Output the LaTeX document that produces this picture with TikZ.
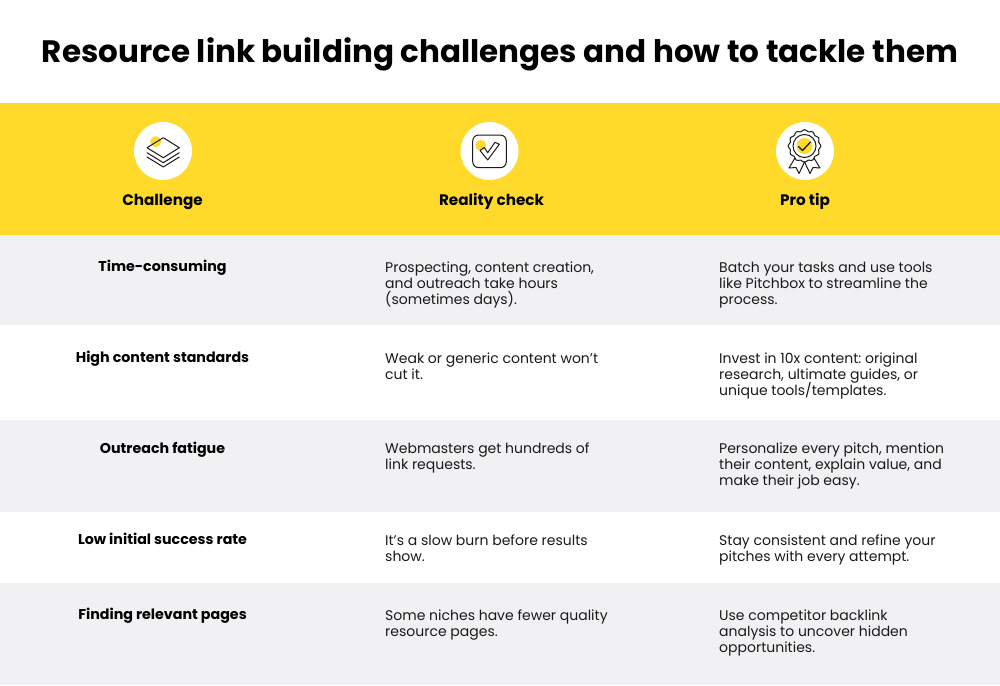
\documentclass[tikz,border=0pt]{standalone}
\usepackage{fontspec}
\setmainfont{Poppins}
\frenchspacing
\newcommand\tightlines{\setlength\lineskiplimit{-20pt}}
\definecolor{bandyellow}{HTML}{FFDA2B}
\definecolor{rowgrey}{HTML}{F1F1F3}
\definecolor{ink}{HTML}{1A1A1A}
\tikzset{
 bodytxt/.style={anchor=north west,align=left,inner sep=0pt,text=ink,font=\fontsize{14}{16}\selectfont\tightlines},
 headtxt/.style={anchor=base,inner sep=0pt,text=black,font=\fontsize{15.2}{17}\selectfont\bfseries},
 rowtxt/.style={anchor=base,inner sep=0pt,text=black,font=\fontsize{14.25}{16}\selectfont\bfseries},
 iconline/.style={draw=ink,line width=1pt,line join=round,line cap=round},
 disc/.style={circle,fill=white,draw=none,minimum size=58pt,inner sep=0pt},
 dot/.style={circle,fill=bandyellow,draw=none,minimum size=11pt,inner sep=0pt}
}
\begin{document}
\begin{tikzpicture}[x=1pt,y=-1pt]
\useasboundingbox (0,0) rectangle (1000,685);
\fill[white] (0,0) rectangle (1000,685);
\fill[bandyellow] (0,103) rectangle (1000,235);
\fill[rowgrey] (0,235) rectangle (1000,325);
\fill[rowgrey] (0,420) rectangle (1000,512);
\fill[rowgrey] (0,583) rectangle (1000,685);
\node[anchor=base,inner sep=0pt,text=black,font=\fontsize{31}{36}\selectfont\bfseries] (title) at (500,62.7) {Resource link building challenges and how to tackle them};
% icons
\node[disc] (d1) at (163,151) {};
\node[dot] (y1) at (155.7,141.7) {};
\draw[iconline] (147,147.7)--(163.3,137.7)--(179.3,147.7)--(163.3,157.7)--cycle;
\draw[iconline] (147,152.7)--(163.3,162.7)--(179.3,152.7);
\draw[iconline] (147,157)--(163.3,167)--(179.3,157);
\node[disc] (d2) at (489.5,151) {};
\node[dot] (y2) at (480.7,145.3) {};
\draw[iconline,rounded corners=6pt] (472.7,135) rectangle (506.3,167.7);
\draw[iconline] (480,150.5)--(484.3,147.5)--(487.7,152.7)--(495,142.3)--(499.3,144.3)--(487.7,160)--cycle;
\node[disc] (d3) at (805,151) {};
\node[circle,fill=bandyellow,minimum size=16pt,inner sep=0pt] (y3) at (804.5,146) {};
\draw[iconline] plot[smooth cycle,samples=48,domain=0:352.5] ({804.5+(15.5+0.9*cos(12*\x))*cos(\x)},{146+(15.5+0.9*cos(12*\x))*sin(\x)});
\draw[iconline] (804.5,146) circle (11.5);
\draw[iconline,line width=1.3pt] (798.5,146.5)--(802.5,150.5)--(810.5,142);
\draw[iconline] (795,158)--(789,168)--(796,167.5)--(799,173.5)--(804.5,162);
\draw[iconline] (814,158)--(820,168)--(813,167.5)--(810,173.5)--(804.5,162);
% headers
\node[headtxt] (h1) at (162.5,205.3) {Challenge};
\node[headtxt] (h2) at (491.5,205.3) {Reality check};
\node[headtxt] (h3) at (805,205.3) {Pro tip};
% rows
\node[rowtxt] (r1) at (162.5,271) {Time-consuming};
\node[rowtxt] (r2) at (162.5,362) {High content standards};
\node[rowtxt] (r3) at (162.5,453) {Outreach fatigue};
\node[rowtxt] (r4) at (162.5,544) {Low initial success rate};
\node[rowtxt] (r5) at (162.5,619) {Finding relevant pages};
\node[bodytxt] (a1) at (385,261.5) {Prospecting, content creation,\\and outreach take hours\\(sometimes days).};
\node[bodytxt] (a2) at (385,352.5) {Weak or generic content won’t\\cut it.};
\node[bodytxt] (a3) at (385,442.7) {Webmasters get hundreds of\\link requests.};
\node[bodytxt] (a4) at (385,534.5) {It’s a slow burn before results\\show.};
\node[bodytxt] (a5) at (385,609.3) {Some niches have fewer quality\\resource pages.};
\node[bodytxt] (b1) at (719,261.5) {Batch your tasks and use tools\\like Pitchbox to streamline the\\process.};
\node[bodytxt] (b2) at (719,352.5) {Invest in 10x content: original\\research, ultimate guides, or\\unique tools/templates.};
\node[bodytxt] (b3) at (719,442.7) {Personalize every pitch, mention\\their content, explain value, and\\make their job easy.};
\node[bodytxt] (b4) at (719,534.5) {Stay consistent and refine your\\pitches with every attempt.};
\node[bodytxt] (b5) at (719,609.3) {Use competitor backlink\\analysis to uncover hidden\\opportunities.};
\end{tikzpicture}
\end{document}
